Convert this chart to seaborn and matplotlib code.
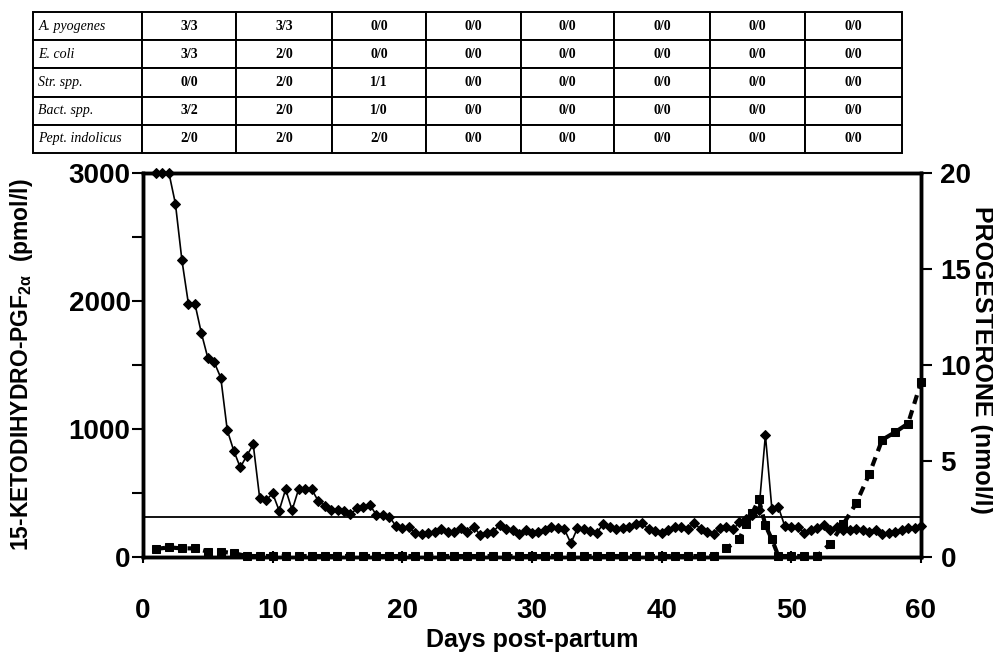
import numpy as np
import matplotlib
matplotlib.use("Agg")
import matplotlib.pyplot as plt
import seaborn as sns

# ---------------- data ----------------
species = ["A. pyogenes", "E. coli", "Str. spp.", "Bact. spp.", "Pept. indolicus"]
table_values = [
    ["3/3", "3/3", "0/0", "0/0", "0/0", "0/0", "0/0", "0/0"],
    ["3/3", "2/0", "0/0", "0/0", "0/0", "0/0", "0/0", "0/0"],
    ["0/0", "2/0", "1/1", "0/0", "0/0", "0/0", "0/0", "0/0"],
    ["3/2", "2/0", "1/0", "0/0", "0/0", "0/0", "0/0", "0/0"],
    ["2/0", "2/0", "2/0", "0/0", "0/0", "0/0", "0/0", "0/0"],
]

pgfm_days = np.arange(1, 60.5, 0.5)
pgfm_vals = [
    3000, 3000, 3000, 2760, 2320, 1980, 1980, 1750, 1555, 1520, 1400, 990, 830, 700, 790, 880, 460, 445,
    497, 362, 529, 367, 529, 529, 531, 440, 401, 367, 367, 362, 333, 380, 388, 406, 328, 328, 315, 242,
    224, 232, 185, 180, 185, 198, 216, 198, 198, 224, 198, 237, 172, 185, 198, 250, 216, 211, 180, 211,
    185, 198, 211, 237, 224, 216, 107, 224, 216, 206, 190, 258, 237, 216, 224, 237, 258, 263, 216, 206,
    185, 211, 232, 237, 216, 268, 216, 198, 180, 224, 237, 216, 270, 300, 330, 365, 953, 375, 390, 240,
    237, 237, 190, 211, 224, 250, 211, 237, 211, 211, 216, 211, 198, 211, 180, 190, 198, 211, 224, 230, 242,
]

prog_days = list(range(1, 46)) + [46, 46.5, 47, 47.5, 48, 48.5, 49, 50, 51, 52, 53, 54, 55, 56, 57, 58, 59, 60]
prog_vals = ([0.42, 0.5, 0.45, 0.45, 0.28, 0.28, 0.2] + [0.05] * 37 + [0.45]
             + [0.95, 1.7, 2.3, 3.0, 1.65, 0.92, 0.05, 0.05, 0.05, 0.05, 0.7, 1.7, 2.8, 4.3, 6.1, 6.5, 6.95, 9.1])

threshold_pgfm = 315

x_ticks = [0, 10, 20, 30, 40, 50, 60]
left_ticks = [0, 1000, 2000, 3000]
left_minor = [500, 1500, 2500]
right_ticks = [0, 5, 10, 15, 20]

# ---------------- style ----------------
sns.set_style("white")
plt.rcParams["font.family"] = ["Liberation Sans", "DejaVu Sans"]
plt.rcParams["text.color"] = "black"
plt.rcParams["axes.labelcolor"] = "black"
plt.rcParams["xtick.color"] = "black"
plt.rcParams["ytick.color"] = "black"
plt.rcParams["mathtext.fontset"] = "custom"
plt.rcParams["mathtext.rm"] = "Liberation Sans:bold"
plt.rcParams["mathtext.it"] = "Liberation Sans:bold"
plt.rcParams["mathtext.bf"] = "Liberation Sans:bold"

fig = plt.figure(figsize=(9.93, 6.58), dpi=100)
fig.patch.set_facecolor("white")

# ---------------- table ----------------
tax = fig.add_axes([33 / 993, 1 - 153 / 658, (902 - 33) / 993, (153 - 12) / 658])
tax.axis("off")
col_px = [109, 94, 96, 94, 95, 93, 96, 95, 97]
tot = sum(col_px)
cell_text = [[sp] + row for sp, row in zip(species, table_values)]
tbl = tax.table(cellText=cell_text, colWidths=[c / tot for c in col_px], bbox=[0, 0, 1, 1], cellLoc="center")
tbl.auto_set_font_size(False)
for (r, c), cell in tbl.get_celld().items():
    cell.set_linewidth(1.4)
    cell.set_edgecolor("black")
    t = cell.get_text()
    t.set_fontfamily("Liberation Serif")
    t.set_color("black")
    if c == 0:
        t.set_fontsize(10)
        t.set_fontstyle("italic")
        t.set_ha("left")
        cell.PAD = 0.05
        cell._loc = "left"
    else:
        t.set_fontsize(10)
        t.set_fontweight("bold")

# ---------------- main axes ----------------
ax = fig.add_axes([143 / 993, 1 - 557 / 658, (921 - 143) / 993, (557 - 173) / 658])
ax.set_xlim(0, 60)
ax.set_ylim(0, 3000)

ax.axhline(threshold_pgfm, color="black", lw=1.3, zorder=2)

sns.lineplot(x=pgfm_days, y=pgfm_vals, ax=ax, color="black", marker="D", markersize=5,
             markeredgecolor="black", linewidth=1.2, clip_on=False, zorder=4)

ax2 = ax.twinx()
ax2.set_ylim(0, 20)
sns.lineplot(x=prog_days, y=prog_vals, ax=ax2, color="black", marker="s", markersize=6,
             markeredgecolor="black", linewidth=3, linestyle=(0, (2.2, 1.6)), clip_on=False, zorder=4)

for a in (ax, ax2):
    for s in a.spines.values():
        s.set_visible(True)
        s.set_linewidth(2.5)
        s.set_color("black")
    a.set_xlabel("")
    a.set_ylabel("")

ax.set_xticks(x_ticks)
ax.set_xticklabels([str(v) for v in x_ticks], fontsize=20, fontweight="bold")
ax.tick_params(axis="x", direction="inout", length=9, width=1.5, pad=25, bottom=True, colors="black")

ax.set_yticks(left_ticks)
ax.set_yticklabels([str(v) for v in left_ticks], fontsize=20, fontweight="bold")
ax.set_yticks(left_minor, minor=True)
ax.tick_params(axis="y", which="major", direction="out", length=8, width=1.5, pad=1, left=True, colors="black")
ax.tick_params(axis="y", which="minor", direction="out", length=8, width=1.5, left=True, colors="black")

ax2.set_yticks(right_ticks)
ax2.set_yticklabels([str(v) for v in right_ticks], fontsize=20, fontweight="bold")
ax2.tick_params(axis="y", direction="out", length=8, width=1.5, pad=6, right=True, colors="black")

fig.text(532 / 993, 1 - 640 / 658, "Days post-partum", ha="center", va="center",
         fontsize=18, fontweight="bold")
fig.text(22 / 993, 1 - 365 / 658, r"15-KETODIHYDRO-PGF$_{2\alpha}$  (pmol/l)", ha="center", va="center",
         rotation=90, fontsize=16.5, fontweight="bold")
fig.text(982 / 993, 1 - 360 / 658, "PROGESTERONE (nmol/l)", ha="center", va="center",
         rotation=-90, fontsize=18, fontweight="bold")

fig.savefig("out.png", dpi=100, facecolor="white")
